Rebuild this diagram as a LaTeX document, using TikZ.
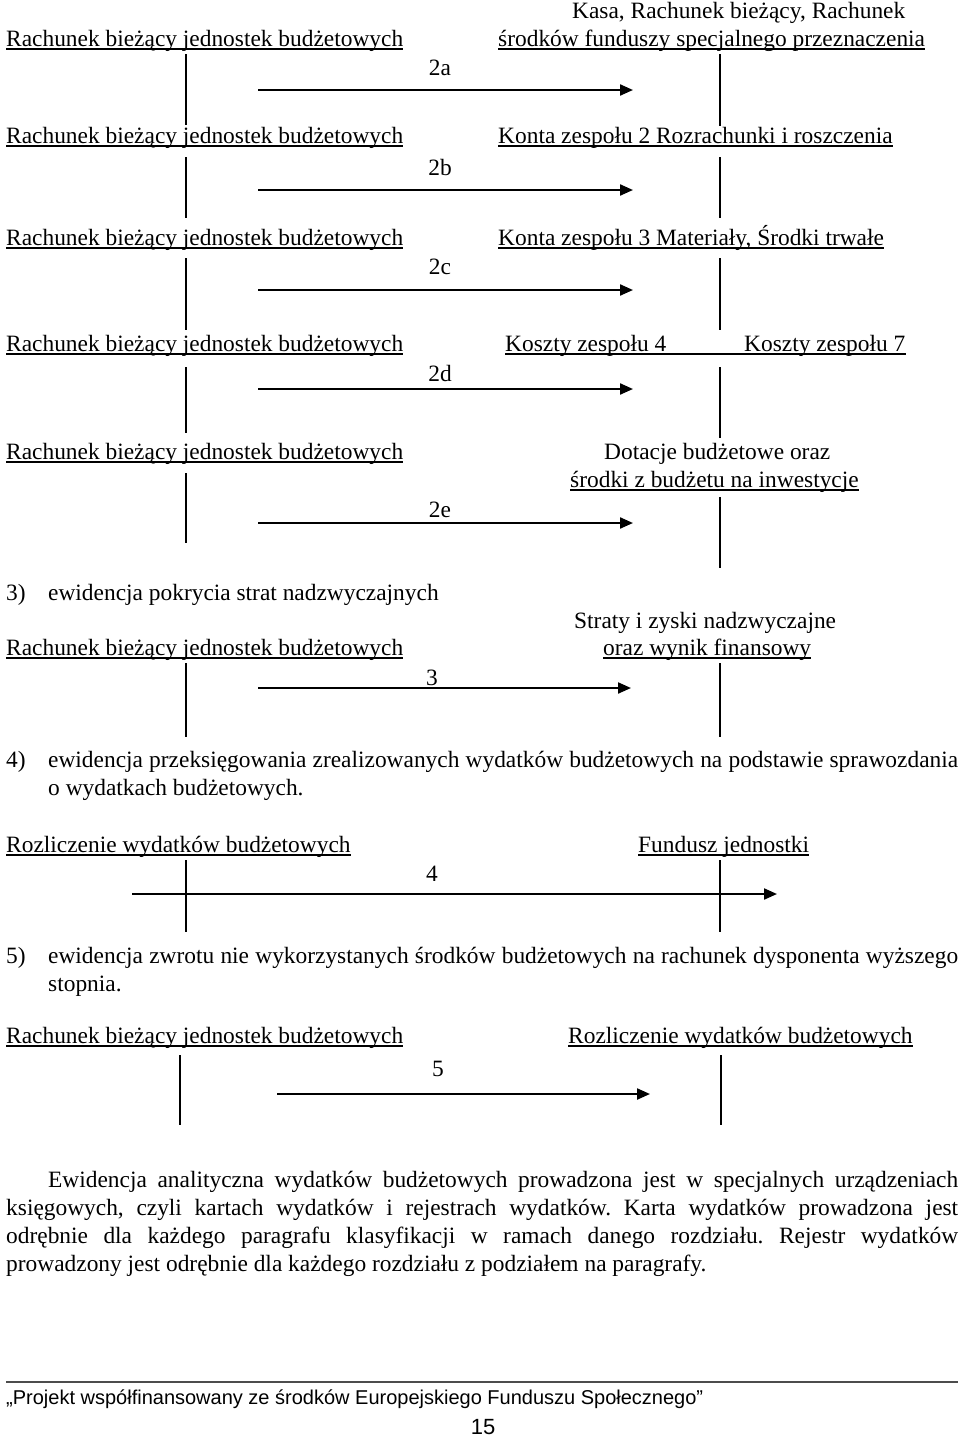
\documentclass[tikz,border=0pt]{standalone}
\usepackage{fontspec}
\setmainfont{Liberation Serif}
\newfontfamily\footfont{Liberation Sans}
\usetikzlibrary{arrows.meta}
\frenchspacing
\newcommand\acctline[1]{\draw[uline] ([yshift=-3pt]#1.base west) -- ([yshift=-3pt]#1.base east);}
\begin{document}
\begin{tikzpicture}[x=1pt,y=-1pt,
  txt/.style={anchor=base west,inner sep=0pt,font=\fontsize{23.4}{28}\selectfont\frenchspacing},
  lbl/.style={anchor=base,inner sep=0pt,font=\fontsize{23.4}{28}\selectfont},
  uline/.style={line width=1.2pt},
  tline/.style={line width=1.4pt},
  flow/.style={line width=2.2pt,-{Triangle[length=13pt,width=11pt]}},
  foot/.style={anchor=base west,inner sep=0pt,font=\footfont\fontsize{20}{24}\selectfont}]
\useasboundingbox (0,0) rectangle (960,1438);

% ---------- row 2a
\node[txt] (l1) at (6,46) {Rachunek bieżący jednostek budżetowych};
\node[txt] (r1t) at (572,18) {Kasa, Rachunek bieżący, Rachunek};
\node[txt] (r1) at (498,46) {środków funduszy specjalnego przeznaczenia};
\acctline{l1}\acctline{r1}
\coordinate (l1a) at (186,54); \coordinate (l1b) at (186,125);
\coordinate (r1a) at (720,54); \coordinate (r1b) at (720,126);
\draw[tline] (l1a) -- (l1b); \draw[tline] (r1a) -- (r1b);
\coordinate (a1s) at (258,90); \coordinate (a1e) at (633,90);
\draw[flow] (a1s) -- (a1e);
\node[lbl] (n1) at (440,75) {2a};

% ---------- row 2b
\node[txt] (l2) at (6,143) {Rachunek bieżący jednostek budżetowych};
\node[txt] (r2) at (498,143) {Konta zespołu 2 Rozrachunki i roszczenia};
\acctline{l2}\acctline{r2}
\coordinate (l2a) at (186,157); \coordinate (l2b) at (186,218);
\coordinate (r2a) at (720,157); \coordinate (r2b) at (720,218);
\draw[tline] (l2a) -- (l2b); \draw[tline] (r2a) -- (r2b);
\coordinate (a2s) at (258,190); \coordinate (a2e) at (633,190);
\draw[flow] (a2s) -- (a2e);
\node[lbl] (n2) at (440,175) {2b};

% ---------- row 2c
\node[txt] (l3) at (6,245) {Rachunek bieżący jednostek budżetowych};
\node[txt] (r3) at (498,245) {Konta zespołu 3 Materiały, Środki trwałe};
\acctline{l3}\acctline{r3}
\coordinate (l3a) at (186,258); \coordinate (l3b) at (186,330);
\coordinate (r3a) at (720,258); \coordinate (r3b) at (720,330);
\draw[tline] (l3a) -- (l3b); \draw[tline] (r3a) -- (r3b);
\coordinate (a3s) at (258,290); \coordinate (a3e) at (633,290);
\draw[flow] (a3s) -- (a3e);
\node[lbl] (n3) at (440,274) {2c};

% ---------- row 2d
\node[txt] (l4) at (6,351) {Rachunek bieżący jednostek budżetowych};
\node[txt] (r4a) at (505,351) {Koszty zespołu 4};
\node[txt] (r4b) at (744,351) {Koszty zespołu 7};
\acctline{l4}
\draw[uline] ([yshift=-3pt]r4a.base west) -- ([yshift=-3pt]r4b.base east);
\coordinate (l4a) at (186,367); \coordinate (l4b) at (186,433);
\coordinate (r4c) at (720,367); \coordinate (r4d) at (720,438);
\draw[tline] (l4a) -- (l4b); \draw[tline] (r4c) -- (r4d);
\coordinate (a4s) at (258,389); \coordinate (a4e) at (633,389);
\draw[flow] (a4s) -- (a4e);
\node[lbl] (n4) at (440,381) {2d};

% ---------- row 2e
\node[txt] (l5) at (6,459) {Rachunek bieżący jednostek budżetowych};
\node[txt] (r5t) at (604,459) {Dotacje budżetowe oraz};
\node[txt] (r5) at (570,487) {środki z budżetu na inwestycje};
\acctline{l5}\acctline{r5}
\coordinate (l5a) at (186,473); \coordinate (l5b) at (186,543);
\coordinate (r5a) at (720,497); \coordinate (r5b) at (720,568);
\draw[tline] (l5a) -- (l5b); \draw[tline] (r5a) -- (r5b);
\coordinate (a5s) at (258,523); \coordinate (a5e) at (633,523);
\draw[flow] (a5s) -- (a5e);
\node[lbl] (n5) at (440,517) {2e};

% ---------- section 3
\node[txt] (h3n) at (6,600) {3)};
\node[txt] (h3) at (48,600) {ewidencja pokrycia strat nadzwyczajnych};
\node[txt] (l6) at (6,655) {Rachunek bieżący jednostek budżetowych};
\node[txt] (r6t) at (574,628) {Straty i zyski nadzwyczajne};
\node[txt] (r6) at (603,655) {oraz wynik finansowy};
\acctline{l6}\acctline{r6}
\coordinate (l6a) at (186,663); \coordinate (l6b) at (186,737);
\coordinate (r6a) at (720,663); \coordinate (r6b) at (720,737);
\draw[tline] (l6a) -- (l6b); \draw[tline] (r6a) -- (r6b);
\coordinate (a6s) at (258,688); \coordinate (a6e) at (631,688);
\draw[flow] (a6s) -- (a6e);
\node[lbl] (n6) at (432,685) {3};

% ---------- section 4
\node[txt] (h4n) at (6,767) {4)};
\node[txt] (h4) at (48,767) {\makebox[910pt][s]{ewidencja przeksięgowania zrealizowanych wydatków budżetowych na podstawie sprawozdania}};
\node[txt] (h4b) at (48,795) {o wydatkach budżetowych.};
\node[txt] (l7) at (6,852) {Rozliczenie wydatków budżetowych};
\node[txt] (r7) at (638,852) {Fundusz jednostki};
\acctline{l7}\acctline{r7}
\coordinate (l7a) at (186,860); \coordinate (l7b) at (186,932);
\coordinate (r7a) at (720,860); \coordinate (r7b) at (720,932);
\draw[tline] (l7a) -- (l7b); \draw[tline] (r7a) -- (r7b);
\coordinate (a7s) at (132,894); \coordinate (a7e) at (777,894);
\draw[flow] (a7s) -- (a7e);
\node[lbl] (n7) at (432,881) {4};

% ---------- section 5
\node[txt] (h5n) at (6,963) {5)};
\node[txt] (h5) at (48,963) {\makebox[910pt][s]{ewidencja zwrotu nie wykorzystanych środków budżetowych na rachunek dysponenta wyższego}};
\node[txt] (h5b) at (48,991) {stopnia.};
\node[txt] (l8) at (6,1043) {Rachunek bieżący jednostek budżetowych};
\node[txt] (r8) at (568,1043) {Rozliczenie wydatków budżetowych};
\acctline{l8}\acctline{r8}
\coordinate (l8a) at (180,1055); \coordinate (l8b) at (180,1125);
\coordinate (r8a) at (721,1055); \coordinate (r8b) at (721,1125);
\draw[tline] (l8a) -- (l8b); \draw[tline] (r8a) -- (r8b);
\coordinate (a8s) at (277,1094); \coordinate (a8e) at (650,1094);
\draw[flow] (a8s) -- (a8e);
\node[lbl] (n8) at (438,1076) {5};

% ---------- paragraph
\node[txt] (p1) at (48,1187) {\makebox[910pt][s]{Ewidencja analityczna wydatków budżetowych prowadzona jest w specjalnych urządzeniach}};
\node[txt] (p2) at (6,1215) {\makebox[952pt][s]{księgowych, czyli kartach wydatków i rejestrach wydatków. Karta wydatków prowadzona jest}};
\node[txt] (p3) at (6,1243) {\makebox[952pt][s]{odrębnie dla każdego paragrafu klasyfikacji w ramach danego rozdziału. Rejestr wydatków}};
\node[txt] (p4) at (6,1271) {prowadzony jest odrębnie dla każdego rozdziału z podziałem na paragrafy.};

% ---------- footer
\coordinate (fl) at (6,1382); \coordinate (fr) at (958,1382);
\draw[line width=2.2pt,black!70] (fl) -- (fr);
\node[foot] (ft) at (6,1404) {„Projekt współfinansowany ze środków Europejskiego Funduszu Społecznego”};
\node[anchor=base,inner sep=0pt,font=\footfont\fontsize{22}{26}\selectfont] (pg) at (483,1434) {15};
\end{tikzpicture}
\end{document}
